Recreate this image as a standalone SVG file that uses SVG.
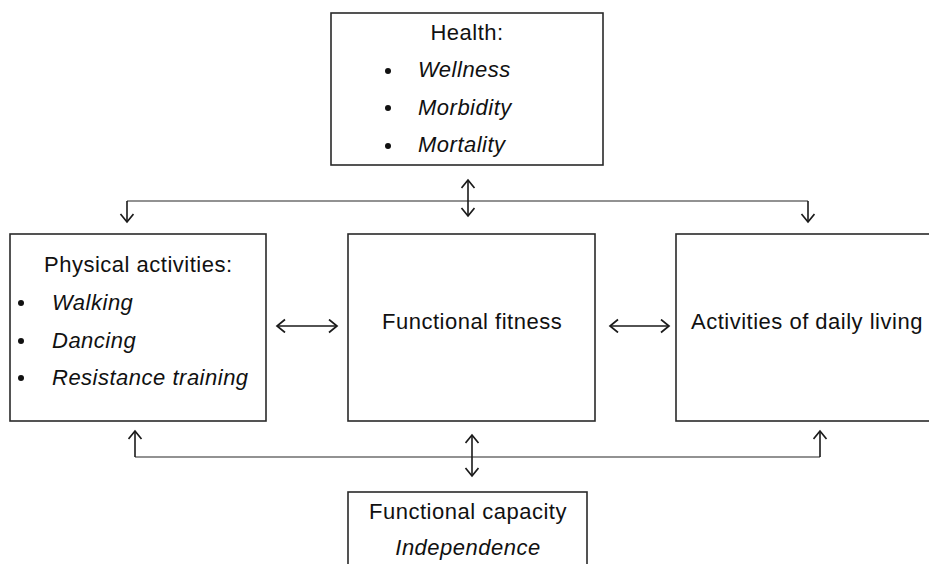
<svg xmlns="http://www.w3.org/2000/svg" width="929" height="564" viewBox="0 0 929 564">
  <defs>
    <style>
      .box { fill: #ffffff; stroke: #2a2a2a; stroke-width: 1.6; }
      .txt { font-family: "Liberation Sans", Arial, sans-serif; font-size: 22px; letter-spacing: 0.5px; fill: #111; }
      .it { font-style: italic; }
      .line { fill: none; stroke: #6e6e6e; stroke-width: 1.6; }
      .arr { fill: none; stroke: #1a1a1a; stroke-width: 1.6; marker-end: url(#head); }
      .darr { fill: none; stroke: #1a1a1a; stroke-width: 1.6; marker-start: url(#head); marker-end: url(#head); }
      .dot { fill: #111; }
    </style>
    <marker id="head" markerUnits="userSpaceOnUse" markerWidth="16" markerHeight="16" refX="9" refY="7" orient="auto-start-reverse">
      <path d="M1,0.5 L9,7 L1,13.5" fill="none" stroke="#1a1a1a" stroke-width="1.7"/>
    </marker>
  </defs>

  <g id="connectors">
    <!-- top distribution line from Health -->
    <path class="line" d="M127,201 H808"/>
    <path class="arr" d="M127,201 V222"/>
    <path class="arr" d="M808,201 V222"/>
    <path class="darr" d="M468,180 V216"/>
    <!-- bottom collection line to Functional capacity -->
    <path class="line" d="M135,457 H820"/>
    <path class="arr" d="M135,457 V431"/>
    <path class="arr" d="M820,457 V431"/>
    <path class="darr" d="M472,435 V476"/>
    <!-- horizontal links -->
    <path class="darr" d="M277,326 H337"/>
    <path class="darr" d="M610,326 H669"/>
  </g>

  <g id="health">
    <rect class="box" x="331" y="13" width="272" height="152"/>
    <text class="txt" x="467" y="40" text-anchor="middle">Health:</text>
    <circle class="dot" cx="388" cy="71" r="3"/>
    <circle class="dot" cx="388" cy="108" r="3"/>
    <circle class="dot" cx="388" cy="146" r="3"/>
    <text class="txt it" x="418" y="77">Wellness</text>
    <text class="txt it" x="418" y="115">Morbidity</text>
    <text class="txt it" x="418" y="152">Mortality</text>
  </g>

  <g id="physical-activities">
    <rect class="box" x="10" y="234" width="256" height="187"/>
    <text class="txt" x="44" y="272">Physical activities:</text>
    <circle class="dot" cx="21" cy="303" r="3"/>
    <circle class="dot" cx="21" cy="341" r="3"/>
    <circle class="dot" cx="21" cy="378" r="3"/>
    <text class="txt it" x="52" y="310">Walking</text>
    <text class="txt it" x="52" y="348">Dancing</text>
    <text class="txt it" x="52" y="385">Resistance training</text>
  </g>

  <g id="functional-fitness">
    <rect class="box" x="348" y="234" width="247" height="187"/>
    <text class="txt" x="382" y="329">Functional fitness</text>
  </g>

  <g id="daily-living">
    <rect class="box" x="676" y="234" width="262" height="187"/>
    <text class="txt" x="691" y="329">Activities of daily living</text>
  </g>

  <g id="functional-capacity">
    <rect class="box" x="348" y="492" width="239" height="80"/>
    <text class="txt" x="468" y="519" text-anchor="middle">Functional capacity</text>
    <text class="txt it" x="468" y="555" text-anchor="middle">Independence</text>
  </g>
</svg>
